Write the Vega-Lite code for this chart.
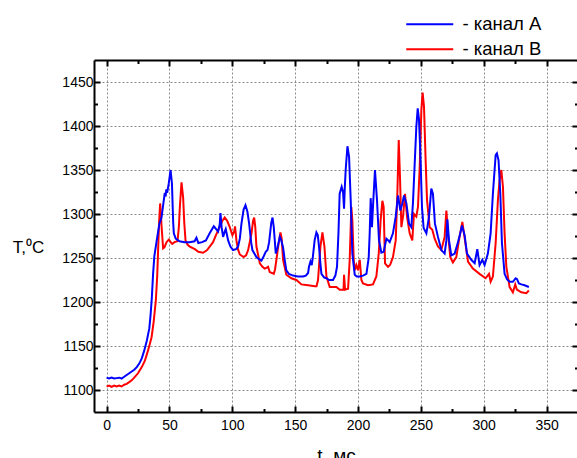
{
  "$schema": "https://vega.github.io/schema/vega-lite/v6.json",
  "width": 484,
  "height": 352,
  "autosize": {"type": "none"},
  "padding": {"left": 94, "top": 60, "right": 0, "bottom": 46},
  "background": "white",
  "config": {"view": {"stroke": null}, "font": "Liberation Sans"},
  "datasets": {
    "a": [
      {"t":0,"T":1114},{"t":2,"T":1113},{"t":4,"T":1114},{"t":6,"T":1113},{"t":8,"T":1113.5},{"t":10,"T":1114},{"t":12,"T":1113},{"t":14,"T":1115},{"t":16,"T":1117},{"t":18,"T":1119},{"t":20,"T":1121},{"t":22,"T":1123},{"t":24,"T":1126},{"t":26,"T":1130},{"t":28,"T":1136},{"t":30,"T":1145},{"t":32,"T":1156},{"t":34,"T":1170},{"t":35,"T":1185},{"t":36,"T":1205},{"t":37,"T":1232},{"t":38,"T":1252},{"t":39.7,"T":1268},{"t":41,"T":1280},{"t":42,"T":1289},{"t":43.7,"T":1296},{"t":45,"T":1310},{"t":46.3,"T":1324},{"t":47,"T":1320},{"t":47.5,"T":1328},{"t":48.2,"T":1324},{"t":49.5,"T":1335},{"t":50.9,"T":1350},{"t":52,"T":1335},{"t":53,"T":1290},{"t":53.5,"T":1278},{"t":55,"T":1272},{"t":58,"T":1269},{"t":62,"T":1268},{"t":66,"T":1268},{"t":70,"T":1269},{"t":71.5,"T":1273},{"t":73,"T":1267},{"t":76,"T":1268},{"t":79,"T":1270},{"t":82,"T":1278},{"t":85.3,"T":1286},{"t":87,"T":1283},{"t":88.7,"T":1280},{"t":90,"T":1288},{"t":90.6,"T":1301},{"t":91.5,"T":1285},{"t":92.7,"T":1274},{"t":94,"T":1280},{"t":94.8,"T":1283},{"t":96.7,"T":1270},{"t":98.5,"T":1263},{"t":100.6,"T":1259},{"t":103,"T":1260},{"t":104.6,"T":1263},{"t":106,"T":1272},{"t":107.3,"T":1289},{"t":109,"T":1305},{"t":110.5,"T":1310},{"t":112,"T":1303},{"t":113.4,"T":1289},{"t":115,"T":1268},{"t":116,"T":1259},{"t":119.2,"T":1251},{"t":121,"T":1249},{"t":123.2,"T":1247},{"t":125,"T":1252},{"t":126.6,"T":1257},{"t":128,"T":1259},{"t":129.3,"T":1268},{"t":131,"T":1290},{"t":132,"T":1296},{"t":133,"T":1285},{"t":134.6,"T":1255},{"t":136,"T":1262},{"t":137.8,"T":1274},{"t":139,"T":1270},{"t":140.4,"T":1262},{"t":141.7,"T":1248},{"t":143,"T":1236},{"t":145,"T":1232},{"t":148.4,"T":1230},{"t":152,"T":1229},{"t":156.3,"T":1229},{"t":158.5,"T":1230},{"t":160.3,"T":1233},{"t":161,"T":1240},{"t":162.2,"T":1246},{"t":163.2,"T":1242},{"t":164,"T":1250},{"t":165.5,"T":1270},{"t":166.9,"T":1279},{"t":168,"T":1276},{"t":169,"T":1263},{"t":170,"T":1245},{"t":170.9,"T":1232},{"t":173,"T":1228},{"t":174.9,"T":1227},{"t":177,"T":1225},{"t":180.1,"T":1225},{"t":182,"T":1230},{"t":183.3,"T":1240},{"t":184.5,"T":1280},{"t":185.4,"T":1323},{"t":187,"T":1331},{"t":188.1,"T":1325},{"t":188.9,"T":1306},{"t":189.5,"T":1330},{"t":190.2,"T":1350},{"t":191.6,"T":1377},{"t":192.9,"T":1365},{"t":194.2,"T":1316},{"t":195.5,"T":1255},{"t":197.4,"T":1231},{"t":199,"T":1229},{"t":201.4,"T":1229},{"t":204,"T":1230},{"t":206.7,"T":1232},{"t":208.5,"T":1250},{"t":209.3,"T":1278},{"t":210.1,"T":1318},{"t":211.1,"T":1285},{"t":211.9,"T":1308},{"t":213.5,"T":1350},{"t":215.1,"T":1316},{"t":216.7,"T":1270},{"t":218.6,"T":1256},{"t":220.4,"T":1257},{"t":222.6,"T":1272},{"t":224,"T":1270},{"t":225.2,"T":1268},{"t":227.8,"T":1278},{"t":230,"T":1297},{"t":231.8,"T":1321},{"t":233.7,"T":1304},{"t":235.3,"T":1312},{"t":236.6,"T":1321},{"t":238.5,"T":1312},{"t":240.6,"T":1289},{"t":242.4,"T":1285},{"t":243.7,"T":1312},{"t":245,"T":1354},{"t":246.4,"T":1399},{"t":247.5,"T":1420},{"t":248.5,"T":1408},{"t":249.6,"T":1369},{"t":250.9,"T":1308},{"t":252.2,"T":1284},{"t":254.4,"T":1278},{"t":256.5,"T":1297},{"t":258.3,"T":1329},{"t":259.6,"T":1323},{"t":261.2,"T":1289},{"t":263.6,"T":1274},{"t":266.3,"T":1259},{"t":268.9,"T":1255},{"t":270.3,"T":1270},{"t":271.1,"T":1294},{"t":272.4,"T":1270},{"t":274.2,"T":1253},{"t":276.9,"T":1255},{"t":279.5,"T":1268},{"t":281,"T":1276},{"t":282.7,"T":1287},{"t":284.8,"T":1276},{"t":286.7,"T":1255},{"t":290.1,"T":1248},{"t":292.8,"T":1244},{"t":294.9,"T":1260},{"t":296.7,"T":1242},{"t":298.9,"T":1248},{"t":300.7,"T":1242},{"t":303.3,"T":1255},{"t":305.5,"T":1278},{"t":307.3,"T":1323},{"t":309.5,"T":1367},{"t":310.5,"T":1369},{"t":311.8,"T":1361},{"t":313.2,"T":1323},{"t":314.5,"T":1267},{"t":316.6,"T":1232},{"t":318.5,"T":1226},{"t":320.6,"T":1223},{"t":323.2,"T":1223},{"t":325.4,"T":1227},{"t":326.5,"T":1226},{"t":328,"T":1221},{"t":330,"T":1220},{"t":332.5,"T":1219},{"t":335.9,"T":1217}
    ],
    "b": [
      {"t":0,"T":1104},{"t":2,"T":1105},{"t":4,"T":1103.5},{"t":6,"T":1105},{"t":8,"T":1104},{"t":10,"T":1105},{"t":12,"T":1104},{"t":14,"T":1106},{"t":16,"T":1107},{"t":18,"T":1109},{"t":20,"T":1111},{"t":22,"T":1114},{"t":25,"T":1119},{"t":28,"T":1126},{"t":30.4,"T":1133},{"t":33,"T":1145},{"t":35.8,"T":1160},{"t":37.5,"T":1178},{"t":39.2,"T":1202},{"t":40.3,"T":1230},{"t":41,"T":1259},{"t":41.8,"T":1290},{"t":42.6,"T":1312},{"t":43.2,"T":1300},{"t":43.7,"T":1287},{"t":45,"T":1261},{"t":46,"T":1262},{"t":47.7,"T":1268},{"t":49.5,"T":1271},{"t":51,"T":1268},{"t":52.2,"T":1266},{"t":54,"T":1268},{"t":56.4,"T":1269},{"t":57.5,"T":1285},{"t":58.3,"T":1308},{"t":59.6,"T":1336},{"t":60.9,"T":1319},{"t":61.8,"T":1290},{"t":62.8,"T":1270},{"t":64.5,"T":1265},{"t":66.2,"T":1263},{"t":70.2,"T":1260},{"t":73,"T":1257},{"t":76.8,"T":1256},{"t":80,"T":1259},{"t":84.7,"T":1268},{"t":87,"T":1276},{"t":90,"T":1285},{"t":92,"T":1292},{"t":94,"T":1296},{"t":96,"T":1292},{"t":98,"T":1285},{"t":100.1,"T":1276},{"t":101.5,"T":1280},{"t":102.2,"T":1286},{"t":103.3,"T":1270},{"t":104.5,"T":1260},{"t":106,"T":1254},{"t":109,"T":1251},{"t":111,"T":1253},{"t":112.6,"T":1259},{"t":115.3,"T":1278},{"t":116.5,"T":1292},{"t":117.4,"T":1296},{"t":118.3,"T":1285},{"t":119.2,"T":1263},{"t":121.9,"T":1244},{"t":124,"T":1240},{"t":125.8,"T":1238},{"t":127.5,"T":1239},{"t":128.5,"T":1240},{"t":129.8,"T":1234},{"t":131.5,"T":1233},{"t":133,"T":1232},{"t":134,"T":1237},{"t":135.1,"T":1248},{"t":136.7,"T":1265},{"t":138.3,"T":1279},{"t":139.3,"T":1272},{"t":140.4,"T":1248},{"t":143,"T":1231},{"t":147,"T":1227},{"t":151,"T":1225},{"t":155,"T":1220},{"t":160.3,"T":1219},{"t":165.6,"T":1218},{"t":167,"T":1218},{"t":168.2,"T":1225},{"t":170.1,"T":1263},{"t":171.7,"T":1279},{"t":173.3,"T":1263},{"t":174.9,"T":1229},{"t":177.5,"T":1217},{"t":180,"T":1217},{"t":182.8,"T":1217},{"t":185.5,"T":1214},{"t":188.5,"T":1214},{"t":188.9,"T":1231},{"t":189.7,"T":1214},{"t":192.1,"T":1215},{"t":193.4,"T":1248},{"t":194.7,"T":1308},{"t":195.5,"T":1293},{"t":196.6,"T":1248},{"t":197.4,"T":1236},{"t":198.7,"T":1242},{"t":200,"T":1236},{"t":201.4,"T":1248},{"t":202.7,"T":1225},{"t":204,"T":1221},{"t":208,"T":1219},{"t":211.9,"T":1220},{"t":214.6,"T":1229},{"t":216.5,"T":1255},{"t":218,"T":1293},{"t":219.4,"T":1315},{"t":220.4,"T":1308},{"t":221.5,"T":1244},{"t":223.9,"T":1240},{"t":225.5,"T":1242},{"t":227.8,"T":1251},{"t":230,"T":1270},{"t":231.3,"T":1323},{"t":232.4,"T":1384},{"t":233.4,"T":1342},{"t":234.5,"T":1285},{"t":235.8,"T":1297},{"t":237.4,"T":1323},{"t":239,"T":1297},{"t":241.1,"T":1278},{"t":243.2,"T":1270},{"t":244.5,"T":1300},{"t":246.4,"T":1297},{"t":247.7,"T":1308},{"t":249.1,"T":1354},{"t":250.4,"T":1418},{"t":251.4,"T":1438},{"t":252.5,"T":1422},{"t":253.8,"T":1361},{"t":254.9,"T":1316},{"t":257,"T":1285},{"t":259.1,"T":1282},{"t":261,"T":1272},{"t":263.6,"T":1263},{"t":266.3,"T":1259},{"t":268.9,"T":1274},{"t":270.3,"T":1304},{"t":271.6,"T":1278},{"t":273.4,"T":1251},{"t":275.5,"T":1245},{"t":278.2,"T":1251},{"t":280.3,"T":1270},{"t":283,"T":1291},{"t":285.1,"T":1270},{"t":287.5,"T":1246},{"t":291.4,"T":1238},{"t":296.7,"T":1232},{"t":301.5,"T":1227},{"t":304.2,"T":1232},{"t":305.5,"T":1223},{"t":307.3,"T":1229},{"t":309.5,"T":1267},{"t":311.3,"T":1316},{"t":312.6,"T":1338},{"t":314,"T":1350},{"t":315.3,"T":1331},{"t":316.6,"T":1278},{"t":318,"T":1240},{"t":320.6,"T":1217},{"t":323.2,"T":1211},{"t":325.1,"T":1220},{"t":326.4,"T":1214},{"t":329.9,"T":1211},{"t":333.9,"T":1210},{"t":335.9,"T":1213}
    ]
  },
  "layer": [
    {
      "data": {"name": "a"},
      "mark": {"type": "line", "strokeWidth": 2, "opacity": 0},
      "encoding": {
        "x": {"field": "t", "type": "quantitative",
          "scale": {"domain": [-10, 375], "nice": false, "zero": false},
          "axis": {"orient": "top", "values": [0,25,50,75,100,125,150,175,200,225,250,275,300,325,350],
            "labels": false, "grid": false, "title": null,
            "tickSize": {"condition": {"test": "datum.value % 50 === 0", "value": -6}, "value": -3.5},
            "tickWidth": 2, "tickColor": "black", "domainColor": "black", "domainWidth": 2}},
        "y": {"field": "T", "type": "quantitative",
          "scale": {"domain": [1075, 1475], "nice": false, "zero": false},
          "axis": {"orient": "right", "values": [1100,1125,1150,1175,1200,1225,1250,1275,1300,1325,1350,1375,1400,1425,1450],
            "labels": false, "grid": false, "title": null,
            "tickSize": {"condition": {"test": "datum.value % 50 === 0", "value": -6}, "value": -3.5},
            "tickWidth": 2, "tickColor": "black", "domainColor": "black", "domainWidth": 2}}
      }
    },
    {
      "data": {"name": "b"},
      "mark": {"type": "line", "strokeWidth": 2},
      "encoding": {
        "x": {"field": "t", "type": "quantitative", "axis": null},
        "y": {"field": "T", "type": "quantitative", "axis": null},
        "color": {"datum": "- канал В", "type": "nominal"}
      }
    },
    {
      "data": {"name": "a"},
      "mark": {"type": "line", "strokeWidth": 2},
      "encoding": {
        "x": {"field": "t", "type": "quantitative",
          "axis": {"orient": "bottom", "values": [0,25,50,75,100,125,150,175,200,225,250,275,300,325,350],
            "format": "d", "labelExpr": "datum.value % 50 === 0 ? datum.label : ''",
            "labelFontSize": 14, "labelColor": "black", "labelPadding": 12, "labelFlush": false, "labelOverlap": false,
            "tickSize": {"condition": {"test": "datum.value % 50 === 0", "value": -6}, "value": -3.5},
            "tickWidth": 2, "tickColor": "black", "domainColor": "black", "domainWidth": 2,
            "grid": true, "gridColor": "#8a8a8a", "gridDash": [2, 2], "gridWidth": 1,
            "gridOpacity": {"condition": {"test": "datum.value % 50 === 0", "value": 1}, "value": 0},
            "title": "t, мс", "titleFontSize": 19, "titleFontWeight": "normal", "titleColor": "black",
            "titleX": 242, "titleY": 49, "titleAlign": "center", "titleBaseline": "alphabetic"}},
        "y": {"field": "T", "type": "quantitative",
          "axis": {"orient": "left", "values": [1100,1125,1150,1175,1200,1225,1250,1275,1300,1325,1350,1375,1400,1425,1450],
            "format": "d", "labelExpr": "datum.value % 50 === 0 ? datum.label : ''",
            "labelFontSize": 14, "labelColor": "black", "labelPadding": 7, "labelOverlap": false,
            "tickSize": {"condition": {"test": "datum.value % 50 === 0", "value": -6}, "value": -3.5},
            "tickWidth": 2, "tickColor": "black", "domainColor": "black", "domainWidth": 2,
            "grid": true, "gridColor": "#8a8a8a", "gridDash": [2, 2], "gridWidth": 1,
            "gridOpacity": {"condition": {"test": "datum.value % 50 === 0", "value": 1}, "value": 0},
            "title": "T,⁰C", "titleFontSize": 17, "titleFontWeight": "normal", "titleColor": "black",
            "titleAngle": 0, "titleX": -66, "titleY": 187, "titleAlign": "center", "titleBaseline": "middle"}},
        "color": {"datum": "- канал А", "type": "nominal",
          "scale": {"domain": ["- канал А", "- канал В"], "range": ["#0000ff", "#ff0000"]},
          "legend": {"orient": "none", "legendX": 326.5, "legendY": -45, "title": null,
            "symbolType": "M-4.7,0H4.7", "symbolSize": 100, "symbolStrokeWidth": 2,
            "labelFontSize": 18.5, "labelColor": "black", "labelOffset": 23.5, "rowPadding": 6, "padding": 0}}
      }
    }
  ]
}
